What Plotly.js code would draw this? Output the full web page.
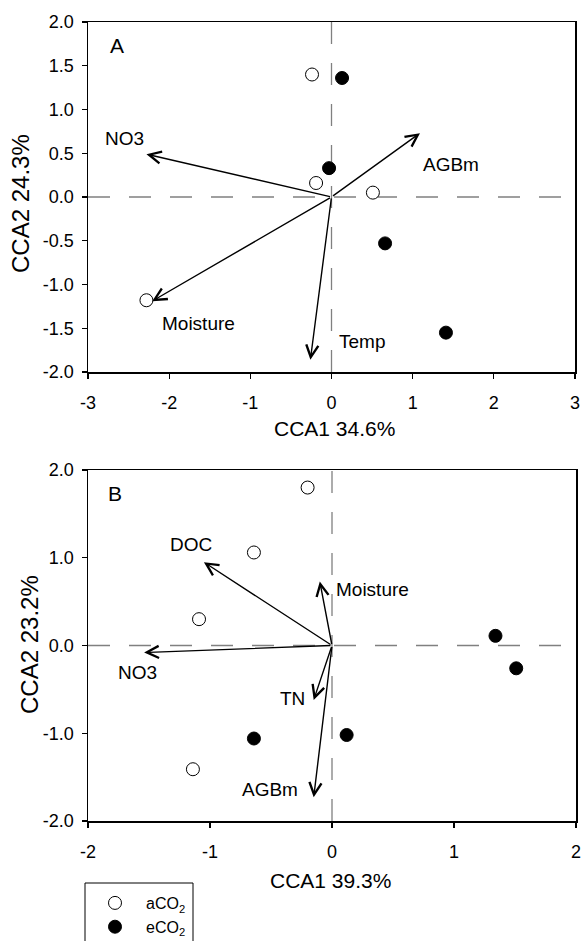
<!DOCTYPE html>
<html>
<head>
<meta charset="utf-8">
<script src="https://cdn.plot.ly/plotly-3.0.1.min.js"></script>
<style>html,body{margin:0;padding:0;background:#fff}#plot{width:582px;height:941px}</style>
</head>
<body>
<div id="plot"></div>
<script>
// Panel A data
const A_aCO2_x = [-0.24, -0.19, 0.51, -2.28];
const A_aCO2_y = [1.40, 0.16, 0.05, -1.18];
const A_eCO2_x = [0.13, -0.03, 0.66, 1.41];
const A_eCO2_y = [1.36, 0.33, -0.53, -1.55];
const A_vars = ['NO3', 'AGBm', 'Moisture', 'Temp'];
const A_var_x = [-2.28, 1.09, -2.21, -0.26];
const A_var_y = [0.49, 0.73, -1.19, -1.86];

// Panel B data
const B_aCO2_x = [-0.20, -0.64, -1.09, -1.14];
const B_aCO2_y = [1.80, 1.06, 0.30, -1.41];
const B_eCO2_x = [1.34, 1.51, -0.64, 0.12];
const B_eCO2_y = [0.11, -0.26, -1.06, -1.02];
const B_vars = ['DOC', 'NO3', 'Moisture', 'TN', 'AGBm'];
const B_var_x = [-1.05, -1.54, -0.10, -0.15, -0.15];
const B_var_y = [0.95, -0.08, 0.73, -0.62, -1.73];

// Tick values / labels
const A_xticks = [-3, -2, -1, 0, 1, 2, 3];
const A_xlabels = ['-3', '-2', '-1', '0', '1', '2', '3'];
const A_yticks = [-2, -1.5, -1, -0.5, 0, 0.5, 1, 1.5, 2];
const A_ylabels = ['-2.0', '-1.5', '-1.0', '-0.5', '0.0', '0.5', '1.0', '1.5', '2.0'];
const B_xticks = [-2, -1, 0, 1, 2];
const B_xlabels = ['-2', '-1', '0', '1', '2'];
const B_yticks = [-2, -1, 0, 1, 2];
const B_ylabels = ['-2.0', '-1.0', '0.0', '1.0', '2.0'];

// label offsets (px) relative to arrow tips
const A_lab_shift = [[-22, 16], [31, -31], [46, -22], [52, 18]];
const B_lab_shift = [[-13, 18], [-7, -20], [53, -8], [-21, 1], [-44, 8]];

const FONT = 'Liberation Sans, Arial, sans-serif';
const W = 582, H = 941;
const px = v => v / W;
const py = v => 1 - v / H;

const mk = (x, y, xa, ya, name, filled, show) => ({
  type: 'scatter', mode: 'markers', x: x, y: y, xaxis: xa, yaxis: ya,
  name: name, showlegend: show,
  marker: {size: 13, symbol: 'circle', color: filled ? 'black' : 'white',
           line: {color: 'black', width: 1}}
});

const data = [
  mk(A_aCO2_x, A_aCO2_y, 'x', 'y', 'aCO<sub>2</sub>', false, true),
  mk(A_eCO2_x, A_eCO2_y, 'x', 'y', 'eCO<sub>2</sub>', true, true),
  mk(B_aCO2_x, B_aCO2_y, 'x2', 'y2', 'aCO<sub>2</sub>', false, false),
  mk(B_eCO2_x, B_eCO2_y, 'x2', 'y2', 'eCO<sub>2</sub>', true, false)
];

const annotations = [];
function addArrows(names, xs, ys, shifts, xr, yr) {
  names.forEach((n, i) => {
    annotations.push({x: xs[i], y: ys[i], xref: xr, yref: yr, ax: 0, ay: 0,
      axref: xr, ayref: yr, text: '', showarrow: true, arrowhead: 5,
      arrowsize: 1.7, arrowwidth: 1.4, arrowcolor: 'black', standoff: 0, startstandoff: 0});
    annotations.push({x: xs[i], y: ys[i], xref: xr, yref: yr, text: n, showarrow: false,
      xshift: shifts[i][0], yshift: shifts[i][1],
      font: {family: FONT, size: 19, color: 'black'}});
  });
}
addArrows(A_vars, A_var_x, A_var_y, A_lab_shift, 'x', 'y');
addArrows(B_vars, B_var_x, B_var_y, B_lab_shift, 'x2', 'y2');

const txt = (t, x, y, size, angle) => ({text: t, x: px(x), y: py(y), xref: 'paper', yref: 'paper',
  showarrow: false, textangle: angle || 0, xanchor: 'center', yanchor: 'middle',
  font: {family: FONT, size: size, color: 'black'}});
annotations.push(txt('A', 117, 46, 21));
annotations.push(txt('B', 115, 494, 21));
annotations.push(txt('CCA1 34.6%', 334, 428, 21));
annotations.push(txt('CCA1 39.3%', 330, 880, 21));
annotations.push(txt('CCA2 24.3%', 20, 204, 24, -90));
annotations.push(txt('CCA2 23.2%', 29, 645, 24, -90));

const dashLine = (x0, y0, x1, y1, xr, yr) => ({type: 'line', x0: x0, y0: y0, x1: x1, y1: y1,
  xref: xr, yref: yr, line: {color: '#808080', width: 1.3, dash: '22px,19px'}, layer: 'below'});

const axBase = {showgrid: false, zeroline: false, showline: true, mirror: true,
  linecolor: 'black', linewidth: 1.5, ticks: 'outside', ticklen: 5, tickcolor: 'black',
  tickwidth: 1.2, tickmode: 'array', tickfont: {family: FONT, size: 18, color: 'black'}, fixedrange: true};

const layout = {
  width: W, height: H, margin: {l: 0, r: 0, t: 0, b: 0, autoexpand: false},
  paper_bgcolor: 'white', plot_bgcolor: 'white', showlegend: true,
  xaxis: Object.assign({}, axBase, {domain: [px(88), px(575)], range: [-3, 3], tickvals: A_xticks, ticktext: A_xlabels, ticklabelstandoff: 9, anchor: 'y'}),
  yaxis: Object.assign({}, axBase, {domain: [py(372), py(22)], range: [-2, 2], tickvals: A_yticks, ticktext: A_ylabels, ticklabelstandoff: 4, anchor: 'x'}),
  xaxis2: Object.assign({}, axBase, {domain: [px(88), px(576)], range: [-2, 2], tickvals: B_xticks, ticktext: B_xlabels, ticklabelstandoff: 9, anchor: 'y2'}),
  yaxis2: Object.assign({}, axBase, {domain: [py(821), py(470)], range: [-2, 2], tickvals: B_yticks, ticktext: B_ylabels, ticklabelstandoff: 4, anchor: 'x2'}),
  shapes: [
    dashLine(-3, 0, 3, 0, 'x', 'y'), dashLine(0, -2, 0, 2, 'x', 'y'),
    dashLine(-2, 0, 2, 0, 'x2', 'y2'), dashLine(0, -2, 0, 2, 'x2', 'y2'),
    {type: 'rect', xref: 'paper', yref: 'paper', x0: px(85), x1: px(193), y0: py(946), y1: py(883),
     line: {color: 'black', width: 1}, fillcolor: 'rgba(0,0,0,0)'}
  ],
  annotations: annotations,
  legend: {x: px(84), y: py(944), xanchor: 'left', yanchor: 'bottom', itemwidth: 52,
    borderwidth: 0, bgcolor: 'rgba(0,0,0,0)', traceorder: 'normal',
    font: {family: FONT, size: 16, color: 'black'}, tracegroupgap: 0}
};

Plotly.newPlot('plot', data, layout, {displayModeBar: false, staticPlot: true});
</script>
</body>
</html>
